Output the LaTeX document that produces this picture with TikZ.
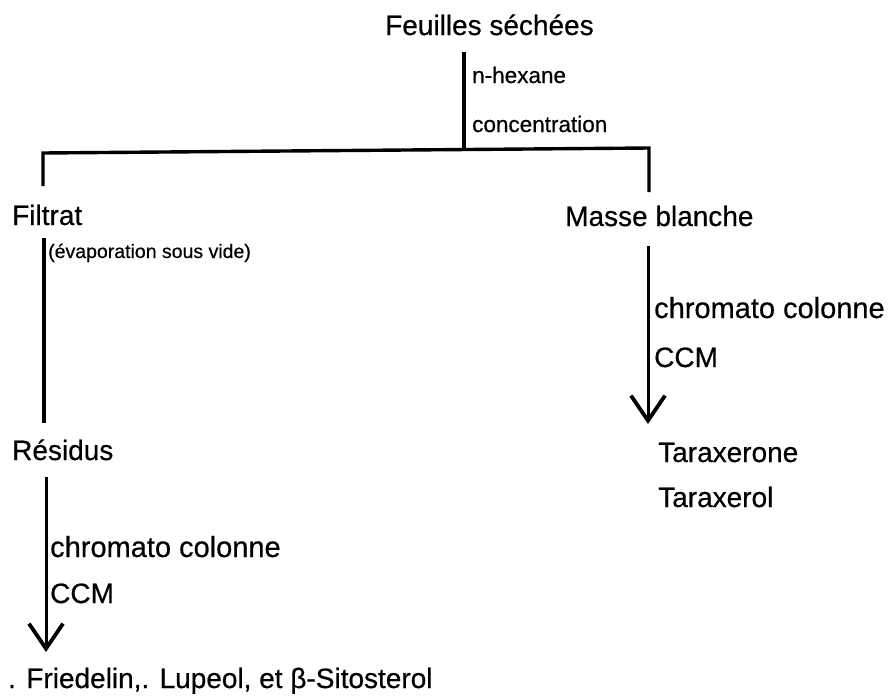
\documentclass[tikz,border=0pt]{standalone}
\usepackage{fontspec}
\setmainfont[FakeBold=0.5]{Liberation Sans}
\usetikzlibrary{arrows.meta}
\begin{document}
\begin{tikzpicture}[x=1pt,y=-1pt,
  big/.style={anchor=base west,inner sep=0pt,font=\fontsize{28}{32}\selectfont},
  wide/.style={anchor=base west,inner sep=0pt,font=\fontsize{29}{33}\selectfont},
  mid/.style={anchor=base west,inner sep=0pt,font=\fontsize{22.5}{26}\selectfont},
  small/.style={anchor=base west,inner sep=0pt,font=\fontsize{19.5}{23}\selectfont},
  link/.style={line width=3.4pt},
  vee/.style={line width=3pt,-{Straight Barb[length=25pt,width=34pt,line width=3.8pt]}}]
\useasboundingbox (0,0) rectangle (891,699);
% text nodes
\node[big] (feuilles) at (385,35) {Feuilles séchées};
\node[mid] (nhex) at (472,83) {n-hexane};
\node[mid] (conc) at (472,132) {concentration};
\node[big] (filtrat) at (12,225) {Filtrat};
\node[big] (masse) at (565,226) {Masse blanche};
\node[small] (evap) at (48,258) {(évaporation sous vide)};
\node[wide] (chr1) at (654,318) {chromato colonne};
\node[big] (ccm1) at (654,367) {CCM};
\node[big] (residus) at (12,460) {Résidus};
\node[big] (tarone) at (658,462) {Taraxerone};
\node[big] (tarol) at (658,507) {Taraxerol};
\node[wide] (chr2) at (50,557) {chromato colonne};
\node[big] (ccm2) at (50,603) {CCM};
\node[big] (fried) at (8,688) {. Friedelin,. Lupeol, et β-Sitosterol};
% junction coordinates
\coordinate (ftop) at (464,52);
\coordinate (fjoin) at (464,150);
\coordinate (lcorner) at (43,153);
\coordinate (rcorner) at (649,148);
\coordinate (lend) at (43,186);
\coordinate (rend) at (649,192);
\coordinate (ltop) at (44,238);
\coordinate (lbot) at (44,423);
\coordinate (rtop) at (648,246);
\coordinate (rtip) at (648,424);
\coordinate (l2top) at (46,477);
\coordinate (l2tip) at (46,652);
% connectors
\draw[link] (ftop) -- (fjoin);
\draw[link,line join=miter] (lend) -- (lcorner) -- (rcorner) -- (rend);
\draw[link] (ltop) -- (lbot);
\draw[vee] (rtop) -- (rtip);
\draw[vee] (l2top) -- (l2tip);
\end{tikzpicture}
\end{document}
